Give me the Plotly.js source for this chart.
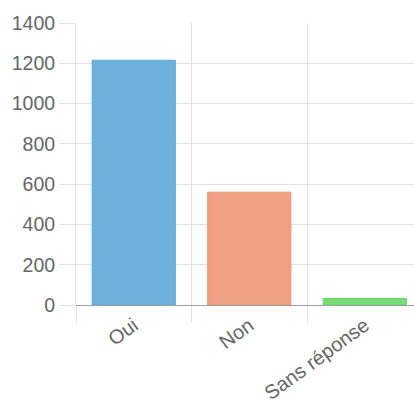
<!DOCTYPE html>
<html><head><meta charset="utf-8">
<script src="https://cdn.plot.ly/plotly-3.0.1.min.js"></script>
<style>html,body{margin:0;padding:0;overflow:hidden;background:#fff}</style>
</head><body>
<div id="chart" style="width:414px;height:405px"></div>
<script>
const categories = ["Oui", "Non", "Sans réponse"];
const values = [1215, 560, 32];
const barColors = ["#6cb0dc", "#f1a085", "#77dd77"];
const borderColors = ["#5fa6d6", "#eb9478", "#66d466"];
const yTicks = [0, 200, 400, 600, 800, 1000, 1200, 1400];

Plotly.newPlot("chart", [{
  type: "bar",
  x: categories,
  y: values,
  width: 0.72,
  marker: {color: barColors, line: {color: borderColors, width: 1}},
  hoverinfo: "none"
}], {
  width: 414, height: 405,
  margin: {l: 76, r: 0, t: 23, b: 99.5, pad: 0},
  paper_bgcolor: "#fff", plot_bgcolor: "#fff",
  showlegend: false,
  font: {family: "Liberation Sans, Arial, sans-serif", color: "#666", size: 19},
  xaxis: {
    type: "category",
    range: [-0.5, 2.426],
    tickson: "boundaries",
    showgrid: true, gridcolor: "#e2e2e2", gridwidth: 1,
    ticks: "outside", ticklen: 17, tickcolor: "#e2e2e2", tickwidth: 1,
    tickangle: -36,
    ticklabelstandoff: 4,
    tickfont: {size: 20, color: "#666"},
    showline: false, zeroline: false
  },
  yaxis: {
    range: [0, 1400],
    tickvals: yTicks,
    ticktext: yTicks.map(String),
    showgrid: true, gridcolor: "#e2e2e2", gridwidth: 1,
    ticks: "outside", ticklen: 16, tickcolor: "#e2e2e2", tickwidth: 1,
    tickfont: {size: 19.5, color: "#666"},
    zeroline: true, zerolinecolor: "#a0a0a0", zerolinewidth: 1,
    showline: true, linecolor: "#e2e2e2", linewidth: 1
  }
}, {staticPlot: true});
</script>
</body></html>
